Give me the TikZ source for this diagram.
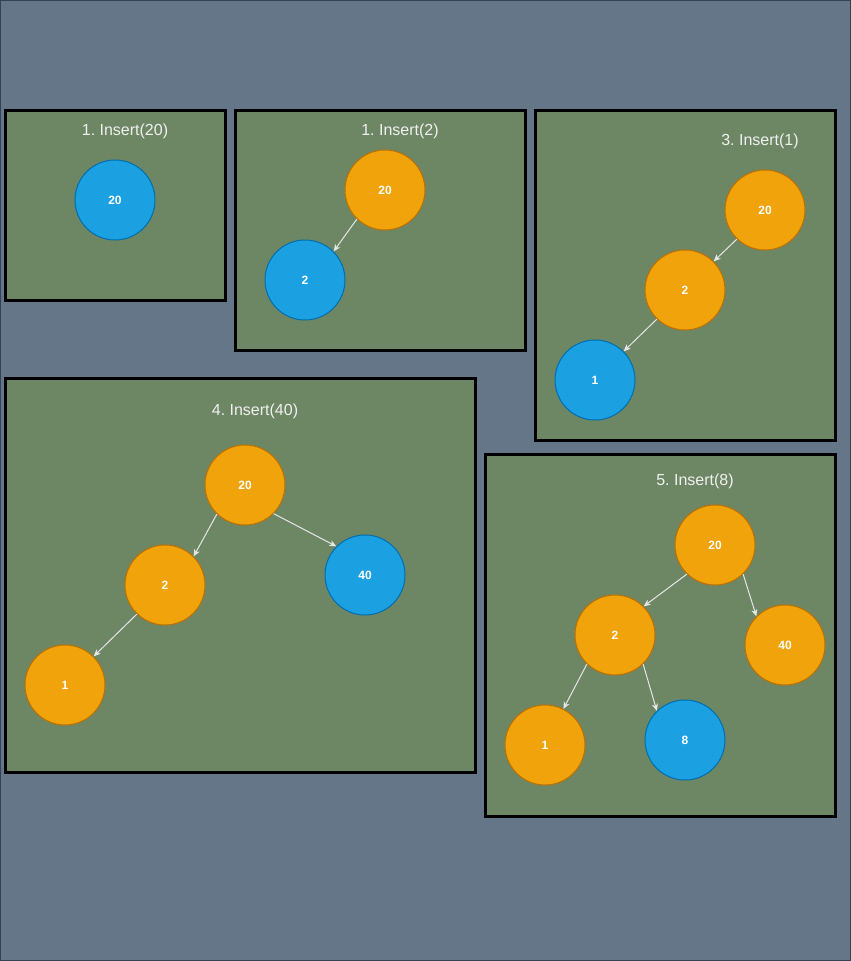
\documentclass[tikz,border=0pt]{standalone}
\usepackage{fontspec}
\setmainfont{Liberation Sans}
\usetikzlibrary{arrows.meta}
\frenchspacing
\definecolor{bgc}{HTML}{647687}
\definecolor{bgline}{HTML}{314354}
\definecolor{panelc}{HTML}{6D8764}
\definecolor{orf}{HTML}{F0A30A}
\definecolor{ors}{HTML}{BD7000}
\definecolor{blf}{HTML}{1BA1E2}
\definecolor{bls}{HTML}{006EAF}
\definecolor{txtc}{HTML}{F0F0F0}
\definecolor{edgec}{HTML}{E6E6E6}
\tikzset{
  panel/.style={draw=black, line width=3pt, fill=panelc},
  ttl/.style={text=txtc, font=\fontsize{16}{18}\selectfont, inner sep=0pt},
  onode/.style={circle, draw=ors, fill=orf, line width=1pt, minimum size=80pt, inner sep=0pt, text=white, font=\bfseries\fontsize{12}{14}\selectfont},
  bnode/.style={onode, draw=bls, fill=blf},
  edge/.style={draw=edgec, line width=1pt, -{Stealth[length=7pt,width=6pt,inset=2pt]}},
}
\begin{document}
\begin{tikzpicture}[x=1pt,y=-1pt]
\useasboundingbox (0,0) rectangle (851,961);
\fill[bgc] (0,0) rectangle (851,961);
\draw[bgline, line width=1pt] (0.5,0.5) rectangle (850.5,960.5);
% panels
\draw[panel] (5,110) rectangle (225,300);
\draw[panel] (235,110) rectangle (525,350);
\draw[panel] (535,110) rectangle (835,440);
\draw[panel] (5,378) rectangle (475,772);
\draw[panel] (485,454) rectangle (835,816);
% titles
\node[ttl] (t1) at (125,131) {1. Insert(20)};
\node[ttl] (t2) at (400,131) {1. Insert(2)};
\node[ttl] (t3) at (760,141) {3. Insert(1)};
\node[ttl] (t4) at (255,411) {4. Insert(40)};
\node[ttl] (t5) at (695,481) {5. Insert(8)};
% panel 1
\node[bnode] (p1a) at (115,200) {20};
% panel 2
\node[onode] (p2a) at (385,190) {20};
\node[bnode] (p2b) at (305,280) {2};
\draw[edge] (p2a.226) -- (p2b.45);
% panel 3
\node[onode] (p3a) at (765,210) {20};
\node[onode] (p3b) at (685,290) {2};
\node[bnode] (p3c) at (595,380) {1};
\draw[edge] (p3a.226) -- (p3b.45);
\draw[edge] (p3b.226) -- (p3c.45);
% panel 4
\node[onode] (p4a) at (245,485) {20};
\node[onode] (p4b) at (165,585) {2};
\node[bnode] (p4c) at (365,575) {40};
\node[onode] (p4d) at (65,685) {1};
\draw[edge] (p4a.226) -- (p4b.45);
\draw[edge] (p4a.315) -- (p4c.135);
\draw[edge] (p4b.226) -- (p4d.45);
% panel 5
\node[onode] (p5a) at (715,545) {20};
\node[onode] (p5b) at (615,635) {2};
\node[onode] (p5c) at (785,645) {40};
\node[onode] (p5d) at (545,745) {1};
\node[bnode] (p5e) at (685,740) {8};
\draw[edge] (p5a.226) -- (p5b.45);
\draw[edge] (p5a.314) -- (p5c.135);
\draw[edge] (p5b.226) -- (p5d.63);
\draw[edge] (p5b.314) -- (p5e.134);
\end{tikzpicture}
\end{document}
